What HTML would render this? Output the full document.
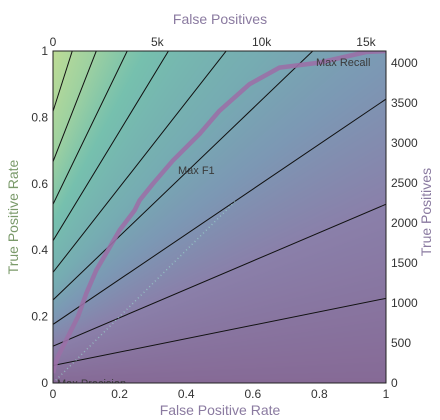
<!DOCTYPE html>
<html><head><meta charset="utf-8"><style>
html,body{margin:0;padding:0;background:#fff;}
#wrap{position:relative;width:440px;height:420px;font-family:"Liberation Sans",sans-serif;}
canvas{position:absolute;left:53px;top:51px;}
svg{position:absolute;left:0;top:0;}
</style></head><body>
<div id="wrap">
<canvas id="bg" width="333" height="332"></canvas>
<svg id="svg" width="440" height="420"></svg>
</div>
<script>
const fprData=[0,0.005,0.015,0.03,0.05,0.075,0.1,0.13,0.165,0.2,0.245,0.26,0.3,0.36,0.44,0.5,0.59,0.68,0.8,0.94,1];
const tprData=[0.03,0.05,0.08,0.11,0.15,0.2,0.27,0.34,0.4,0.46,0.52,0.55,0.6,0.67,0.75,0.82,0.9,0.95,0.965,0.997,1];
const f1Levels=[0.1,0.2,0.3,0.4,0.5,0.6,0.7,0.8,0.9];
const xTicks=[0,0.2,0.4,0.6,0.8,1];
const yTicks=[0,0.2,0.4,0.6,0.8,1];
const topTicks=[0,5000,10000,15000];
const topTickLabels=["0","5k","10k","15k"];
const rightTicks=[0,500,1000,1500,2000,2500,3000,3500,4000];
const totalPos=4150, totalNeg=15960;

const X0=53,X1=386,Y0=383,Y1=51;
const sx=v=>X0+v*(X1-X0);
const sy=v=>Y0-v*(Y0-Y1);
const NS="http://www.w3.org/2000/svg";
const svg=document.getElementById('svg');
function mk(tag,attrs,parent){const e=document.createElementNS(NS,tag);for(const k in attrs)e.setAttribute(k,attrs[k]);(parent||svg).appendChild(e);return e;}

const stops=[[0,[134,106,150]],[0.2,[138,128,170]],[0.33,[124,152,180]],[0.45,[118,172,178]],[0.65,[118,192,174]],[0.82,[160,210,160]],[1,[190,220,150]]];
function col(f){for(let i=1;i<stops.length;i++){if(f<=stops[i][0]){const a=stops[i-1],b=stops[i];const t=(f-a[0])/(b[0]-a[0]);return a[1].map((c,j)=>c+(b[1][j]-c)*t);}}return stops[stops.length-1][1];}
const cv=document.getElementById('bg');const ctx=cv.getContext('2d');
const img=ctx.createImageData(333,332);
for(let py=0;py<332;py++)for(let px=0;px<333;px++){
 const fpr=px/332,tpr=1-py/331;const tp=tpr*totalPos,fp=fpr*totalNeg,fn=totalPos-tp;
 const f=2*tp/(2*tp+fp+fn||1);const c=col(f);const i=(py*333+px)*4;
 img.data[i]=c[0];img.data[i+1]=c[1];img.data[i+2]=c[2];img.data[i+3]=255;}
ctx.putImageData(img,0,0);

const clip=mk('clipPath',{id:'pc'});mk('rect',{x:X0,y:Y1,width:X1-X0,height:Y0-Y1},clip);
const g=mk('g',{'clip-path':'url(#pc)'});
f1Levels.forEach(f=>{
 const b=f/(2-f);const m=b*totalNeg/totalPos;
 const l=mk('line',{x1:sx(0),y1:sy(b),x2:sx(1),y2:sy(b+m),stroke:'#111','stroke-width':1},g);
 
 
});
const cl=mk('line',{x1:sx(0),y1:sy(0),x2:sx(0.55),y2:sy(0.55),stroke:'#9fe0d0','stroke-width':1.5,'stroke-dasharray':'1 3',opacity:0.6},g);


const roc=mk('polyline',{points:fprData.map((v,i)=>sx(v)+','+sy(tprData[i])).join(' '),fill:'none',stroke:'#9a70a6','stroke-width':4.5,'stroke-linejoin':'round',opacity:0.9},g);


[["Max F1",178,174,'max-f1-label'],["Max Recall",316,66,'max-recall-label'],["Max Precision",57,387,'max-precision-label']].forEach(a=>{
 const t=mk('text',{x:a[1],y:a[2],'font-size':11,fill:'#3a3a3a'},g);t.textContent=a[0];
 
 
});
const fr=mk('rect',{x:X0,y:Y1,width:X1-X0,height:Y0-Y1,fill:'none',stroke:'#222','stroke-width':1});


xTicks.forEach(v=>{const t=mk('text',{x:sx(v),y:398,'font-size':12,fill:'#333','text-anchor':'middle'});t.textContent=String(v);
 
 });
yTicks.forEach(v=>{const t=mk('text',{x:48,y:sy(v)+4,'font-size':12,fill:'#333','text-anchor':'end'});t.textContent=String(v);
 
 });
topTicks.forEach((v,i)=>{const t=mk('text',{x:sx(v/totalNeg),y:46,'font-size':12,fill:'#333','text-anchor':'middle'});t.textContent=topTickLabels[i];
 
 });
rightTicks.forEach(v=>{const t=mk('text',{x:391,y:sy(v/totalPos)+4,'font-size':12,fill:'#333'});t.textContent=String(v);
 
 });
let t;
t=mk('text',{x:220,y:24,'font-size':14,fill:'#8a7aa0','text-anchor':'middle'});t.textContent='False Positives';


t=mk('text',{x:220,y:415,'font-size':14,fill:'#8a7aa0','text-anchor':'middle'});t.textContent='False Positive Rate';


t=mk('text',{x:18,y:217,'font-size':14,fill:'#7a9a6a','text-anchor':'middle',transform:'rotate(-90 18 217)'});t.textContent='True Positive Rate';


t=mk('text',{x:431,y:212,'font-size':14,fill:'#8a7aa0','text-anchor':'middle',transform:'rotate(-90 431 212)'});t.textContent='True Positives';


</script>
</body></html>
